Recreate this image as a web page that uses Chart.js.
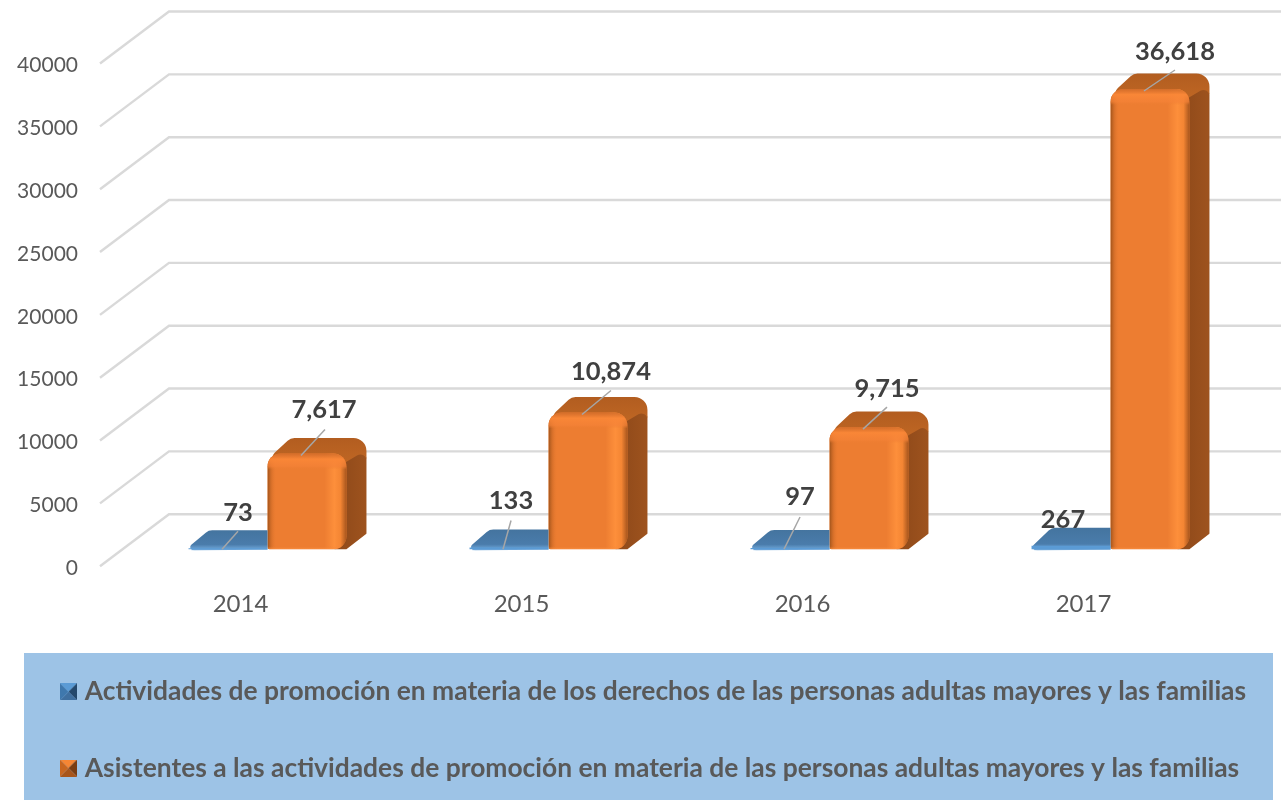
<!DOCTYPE html>
<html><head><meta charset="utf-8">
<style>html,body{margin:0;padding:0;background:#fff;overflow:hidden}canvas{display:block}</style>
<script src="https://cdn.jsdelivr.net/npm/chart.js@4/dist/chart.umd.min.js"></script>
</head><body><canvas id="c" width="1281" height="800"></canvas>
<script>
const categories = ['2014','2015','2016','2017'];
const actividades = [73,133,97,267];
const asistentes = [7617,10874,9715,36618];
const seriesNames = [
  'Actividades de promoción en materia de los derechos de las personas adultas mayores y las familias',
  'Asistentes a las actividades de promoción en materia de las personas adultas mayores y las familias'
];
const yMax = 40000, yStep = 5000;

// view of the pseudo-3D box
const BACK = {dx:69, dy:-52};
const BAR_SHIFT = {dx:27, dy:-17};
const DEPTH = [{dx:20, dy:-18},{dx:20, dy:-15.5}];
const RADIUS = 13;
const FONT = 'Lato, sans-serif';
// label centre and leader end, relative to the bar's top-centre
const LABEL_OFFSET = [
  [[10,-36,10,-17],[2,-47,2,-27],[10,-51,10,-31],[-8,-26,null,null]],
  [[17,-44,18,-24],[23,-41,23,-22],[18,-38,18,-20],[25,-37,25,-19]]
];

function marker(bottom, left, top, right){
  const s=17, m=document.createElement('canvas'); m.width=s; m.height=s;
  const g=m.getContext('2d'), c=s/2;
  const tri=(a,b,col)=>{g.fillStyle=col;g.beginPath();g.moveTo(a[0],a[1]);g.lineTo(b[0],b[1]);g.lineTo(c,c);g.closePath();g.fill();};
  tri([0,0],[s,0],top); tri([s,0],[s,s],right); tri([s,s],[0,s],bottom); tri([0,s],[0,0],left);
  return m;
}
const markers=[marker('#3f6f9f','#3f78ad','#5b9bd5','#24486c'), marker('#a8551a','#c8661f','#f58634','#7a3d12')];

function roundedPoly(ctx, pts, radii){
  const n=pts.length;
  const a0=pts[n-1], b0=pts[0];
  ctx.beginPath();
  ctx.moveTo((a0[0]+b0[0])/2,(a0[1]+b0[1])/2);
  for(let i=0;i<n;i++){
    const p=pts[i], q=pts[(i+1)%n];
    ctx.arcTo(p[0],p[1],q[0],q[1],radii[i]);
  }
  ctx.closePath();
}

const shell3d = {
  id:'shell3d',
  afterLayout(chart){
    const l=chart.legend;
    l.top=628.5; l.bottom=828.5; l.right=chart.width; l.width=chart.width-l.left;
  },
  beforeDatasetsDraw(chart){
    const {ctx,scales:{y},chartArea:a}=chart;
    ctx.save();
    ctx.strokeStyle='#d9d9d9'; ctx.lineWidth=2.4; ctx.lineJoin='miter';
    y.ticks.forEach(t=>{
      const py=y.getPixelForValue(t.value);
      ctx.beginPath();
      ctx.moveTo(a.left,py);
      ctx.lineTo(a.left+BACK.dx,py+BACK.dy);
      ctx.lineTo(chart.width,py+BACK.dy);
      ctx.stroke();
    });
    ctx.restore();
  },
  beforeDatasetDraw(chart,{index,meta}){
    const ctx=chart.ctx, d=DEPTH[index];
    ctx.save();
    ctx.translate(BAR_SHIFT.dx,BAR_SHIFT.dy);
    meta.data.forEach(el=>{
      const {x,y,base,width}=el.getProps(['x','y','base','width'],true);
      const L=x-width/2,R=x+width/2,T=y,B=base;
      if(index===1){
        let g=ctx.createLinearGradient(R,0,R+d.dx,0);
        g.addColorStop(0,'#934c1b'); g.addColorStop(1,'#9e531e');
        ctx.fillStyle=g;
        roundedPoly(ctx,[[R-12,T+2],[R+d.dx,T+d.dy],[R+d.dx,B+d.dy],[R,B],[R-12,B]],[0,13,1,1,0]);
        ctx.fill();
        g=ctx.createLinearGradient(0,T+d.dy,0,T+6);
        g.addColorStop(0,'#b25d20'); g.addColorStop(1,'#bd6523');
        ctx.fillStyle=g;
        roundedPoly(ctx,[[L,T+6],[L+d.dx+3,T+d.dy],[R+d.dx,T+d.dy],[R+d.dx,T+d.dy+12],[R-3,T+10],[L+6,T+10]],[8,10,13,6,2,2]);
        ctx.fill();
      } else {
        const g=ctx.createLinearGradient(0,T+d.dy,0,B);
        g.addColorStop(0,'#44749f'); g.addColorStop(.75,'#4a7cab'); g.addColorStop(1,'#6ea6d8');
        ctx.fillStyle=g;
        roundedPoly(ctx,[[L-3,B+.5],[L+d.dx,T+d.dy],[R,T+d.dy],[R,B+.5],[L+6,B+1]],[3,10,0,0,4]);
        ctx.fill();
      }
    });
  },
  afterDatasetDraw(chart,{index,meta}){
    const ctx=chart.ctx;
    meta.data.forEach(el=>{
      const {x,y,base,width}=el.getProps(['x','y','base','width'],true);
      const L=x-width/2,R=x+width/2,T=y,B=base;
      if(index!==1) return;
      ctx.save();
      ctx.beginPath();
      ctx.roundRect(L,T,width,B-T,[RADIUS,RADIUS,RADIUS,2]);
      ctx.clip();
      let g=ctx.createLinearGradient(L,0,R,0);
      const f=v=>v/width;
      g.addColorStop(0,'rgba(150,78,24,.9)');
      g.addColorStop(f(4),'rgba(195,100,35,.5)');
      g.addColorStop(f(9),'rgba(237,125,49,0)');
      g.addColorStop(f(width-22),'rgba(255,145,60,0)');
      g.addColorStop(f(width-12),'rgba(255,145,60,.9)');
      g.addColorStop(f(width-6),'rgba(245,135,52,.85)');
      g.addColorStop(f(width-1),'rgba(170,88,30,.85)');
      g.addColorStop(1,'rgba(150,78,24,.9)');
      ctx.fillStyle=g; ctx.fillRect(L,T,width,B-T);
      g=ctx.createLinearGradient(0,T,0,T+16);
      g.addColorStop(0,'rgba(205,105,40,.8)');
      g.addColorStop(.35,'rgba(250,135,55,.95)');
      g.addColorStop(.8,'rgba(245,130,55,.7)');
      g.addColorStop(1,'rgba(237,125,49,0)');
      ctx.fillStyle=g; ctx.fillRect(L,T,width,16);
      g=ctx.createLinearGradient(0,B-3,0,B);
      g.addColorStop(0,'rgba(237,125,49,0)');
      g.addColorStop(1,'rgba(255,150,70,.7)');
      ctx.fillStyle=g; ctx.fillRect(L,B-3,width,3);
      ctx.restore();
    });
    ctx.restore();
  },
  afterDatasetsDraw(chart){
    const ctx=chart.ctx;
    ctx.save();
    chart.data.datasets.forEach((ds,i)=>{
      const meta=chart.getDatasetMeta(i);
      meta.data.forEach((el,j)=>{
        const bx=el.x+BAR_SHIFT.dx, by=el.y+BAR_SHIFT.dy;
        const o=LABEL_OFFSET[i][j];
        if(o[2]!==null){
          ctx.strokeStyle='#a6a6a6'; ctx.lineWidth=1.5;
          ctx.beginPath();
          const ly=i===0?el.base+BAR_SHIFT.dy:by+2;
          ctx.moveTo(bx-6,ly);
          ctx.lineTo(bx+o[2],by+o[3]);
          ctx.stroke();
        }
        ctx.fillStyle='#404040';
        ctx.font='bold 25.5px '+FONT;
        ctx.textAlign='center'; ctx.textBaseline='middle';
        ctx.fillText(ds.data[j].toLocaleString('en-US'),bx+o[0],by+o[1]);
      });
    });
    ctx.restore();
  },
  beforeDraw(chart){
    const ctx=chart.ctx;
    ctx.save();
    ctx.fillStyle='#fff'; ctx.fillRect(0,0,chart.width,chart.height);
    ctx.fillStyle='#9dc3e6'; ctx.fillRect(24,653,1249,147);
    ctx.restore();
  }
};

new Chart(document.getElementById('c'),{
  type:'bar',
  data:{labels:categories,datasets:[
    {label:seriesNames[0],data:actividades,backgroundColor:'#5b9bd5',clip:false},
    {label:seriesNames[1],data:asistentes,backgroundColor:'#ed7d31',clip:false,
     borderRadius:{topLeft:RADIUS,topRight:RADIUS,bottomRight:RADIUS,bottomLeft:2},borderSkipped:false}
  ]},
  plugins:[shell3d],
  options:{
    responsive:false,animation:false,
    layout:{padding:{left:15.5,top:63.5,right:57,bottom:11}},
    datasets:{bar:{barPercentage:1,categoryPercentage:.562}},
    scales:{
      x:{grid:{display:false},border:{display:false},
         ticks:{color:'#595959',font:{family:FONT,size:24},padding:16,maxRotation:0},
         afterFit(s){s.height=60;}},
      y:{min:0,max:yMax,grid:{display:false,drawTicks:false},border:{display:false},
         ticks:{stepSize:yStep,color:'#595959',font:{family:FONT,size:21},padding:22,labelOffset:2,callback:v=>String(v)},
         afterFit(s){s.width=100-15.5;}}
    },
    plugins:{
      tooltip:{enabled:false},
      legend:{position:'bottom',align:'start',
        labels:{color:'#595959',font:{family:FONT,size:26.4,weight:'bold'},padding:50,
          usePointStyle:true,pointStyleWidth:6,boxHeight:17,
          generateLabels(chart){
            return Chart.defaults.plugins.legend.labels.generateLabels(chart).map((it,i)=>({...it,pointStyle:markers[i]}));
          }}}
    }
  }
});
</script></body></html>
